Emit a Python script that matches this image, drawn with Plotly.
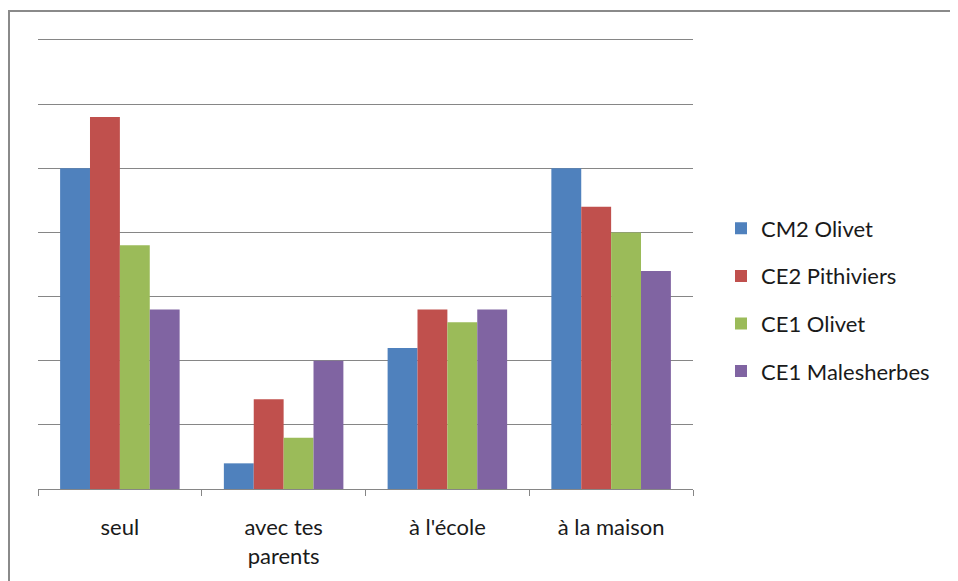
import plotly.graph_objects as go

categories = ["seul", "avec tes<br>parents", "à l'école", "à la maison"]
cm2_olivet = [25, 2, 11, 25]
ce2_pithiviers = [29, 7, 14, 22]
ce1_olivet = [19, 4, 13, 20]
ce1_malesherbes = [14, 10, 14, 17]

series = [
    ("CM2 Olivet", cm2_olivet, "#4F81BD"),
    ("CE2 Pithiviers", ce2_pithiviers, "#C0504D"),
    ("CE1 Olivet", ce1_olivet, "#9BBB59"),
    ("CE1 Malesherbes", ce1_malesherbes, "#8064A2"),
]

fig = go.Figure()
for i, (name, vals, color) in enumerate(series):
    fig.add_trace(go.Bar(x=categories, y=vals, name=name, marker_color=color,
                         marker_line_width=0, legendgroup=f"g{i}"))

# page body has an 8px margin: figure occupies viewport from (8,8)
OFF = 8
W, H = 958 - OFF, 581 - OFF
L, T = 38 - OFF, 40 - OFF
R = 958 - 693
B = 581 - 489
pw, ph = W - L - R, H - T - B

def px_x(x):  # viewport x -> paper
    return (x - OFF - L) / pw

def px_y(y):  # viewport y -> paper
    return (H - B - (y - OFF)) / ph

fig.update_layout(
    width=W, height=H,
    margin=dict(l=L, r=R, t=T, b=B, pad=0),
    barmode="group", bargap=0.27, bargroupgap=0,
    plot_bgcolor="white", paper_bgcolor="white",
    font=dict(family="Lato, 'Open Sans', sans-serif", size=22, color="#1a1a1a"),
    showlegend=True,
    legend=dict(x=px_x(721), xanchor="left", y=px_y(300), yanchor="middle",
                tracegroupgap=16, font=dict(size=22), itemwidth=30,
                bgcolor="rgba(0,0,0,0)"),
    xaxis=dict(showgrid=False, ticks="outside", tickson="boundaries", ticklen=6,
               tickcolor="#868686", showline=True, mirror=True,
               linecolor="#868686", linewidth=1,
               ticklabelstandoff=19, tickfont=dict(size=22)),
    yaxis=dict(range=[0, 35], dtick=5, showgrid=True,
               gridcolor="#868686", gridwidth=1,
               showticklabels=False, zeroline=False, showline=False, ticks=""),
    shapes=[dict(type="rect", xref="paper", yref="paper",
                 x0=px_x(9), x1=px_x(1000),
                 y0=px_y(620), y1=px_y(11),
                 line=dict(color="#8a8a8a", width=2), fillcolor="rgba(0,0,0,0)",
                 layer="below")],
)

fig.write_html("out.html")
